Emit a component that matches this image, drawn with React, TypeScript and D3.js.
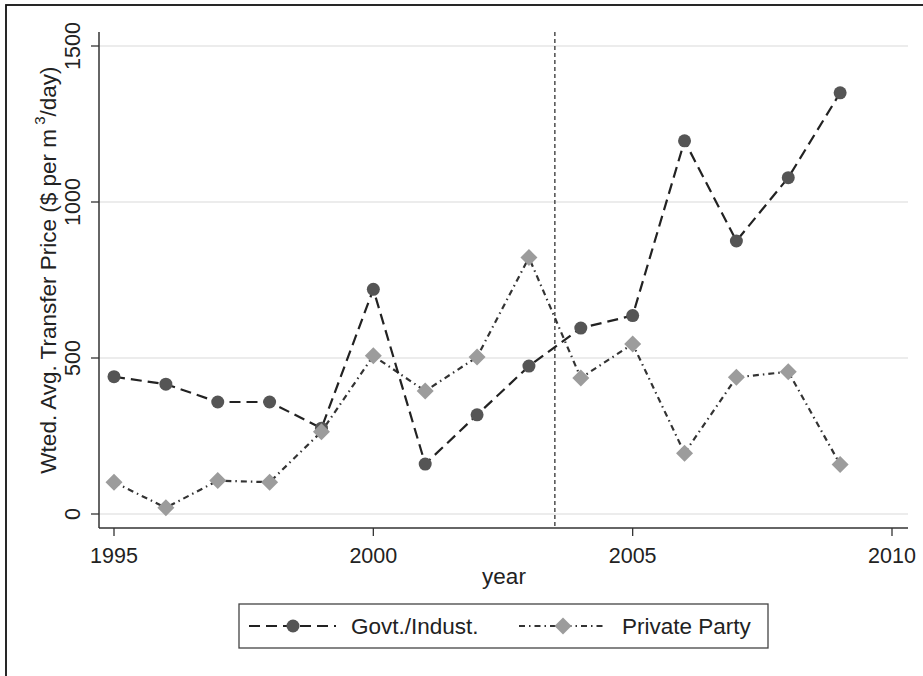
import React from "react";
import * as d3 from "d3";

// Weighted average transfer prices by year
const years = [1995, 1996, 1997, 1998, 1999, 2000, 2001, 2002, 2003, 2004, 2005, 2006, 2007, 2008, 2009];
const govtIndust = [440, 416, 359, 359, 275, 720, 160, 318, 474, 596, 636, 1196, 875, 1078, 1350];
const privateParty = [102, 20, 107, 102, 264, 507, 394, 503, 822, 436, 545, 195, 438, 456, 159];
const xTicks = [1995, 2000, 2005, 2010];
const yTicks = [0, 500, 1000, 1500];
const breakYear = 2003.5;

const W = 923;
const H = 676;
const FONT = "Liberation Sans, Arial, Helvetica, sans-serif";

export default function App() {
  const x = d3.scaleLinear().domain([1995, 2010]).range([114, 892]);
  const y = d3.scaleLinear().domain([0, 1500]).range([514, 46]);
  const axisX = 99;
  const axisY = 528;
  const plotTop = 32;
  const plotRight = 908;

  const lineGen = d3
    .line<number>()
    .x((_, i) => x(years[i]))
    .y((d) => y(d));

  const diamond = (cx: number, cy: number, r: number) =>
    `M${cx},${cy - r}L${cx + r},${cy}L${cx},${cy + r}L${cx - r},${cy}Z`;

  const govtStroke = "#222";
  const govtMarker = "#555";
  const privStroke = "#333";
  const privMarker = "#9c9c9c";
  const govtDash = "11,6";
  const privDash = "6,4,1.5,4";

  return (
    <svg
      width={W}
      height={H}
      style={{ position: "absolute", left: 0, top: 0, background: "#fff" }}
      fontFamily={FONT}
    >
      <rect x={0} y={0} width={W} height={H} fill="#fff" />
      {/* outer frame */}
      <rect x={6} y={5} width={W + 10} height={H + 10} fill="none" stroke="#111" strokeWidth={1.8} />

      {/* horizontal gridlines */}
      {yTicks.map((t) => (
        <line key={"g" + t} x1={axisX} x2={plotRight} y1={y(t)} y2={y(t)} stroke="#e6e6e6" strokeWidth={1.5} />
      ))}

      {/* axes */}
      <line x1={axisX} x2={axisX} y1={plotTop} y2={axisY} stroke="#333" strokeWidth={1.5} />
      <line x1={axisX} x2={plotRight} y1={axisY} y2={axisY} stroke="#333" strokeWidth={1.5} />

      {yTicks.map((t) => (
        <g key={"yt" + t}>
          <line x1={axisX - 8} x2={axisX} y1={y(t)} y2={y(t)} stroke="#333" strokeWidth={1.3} />
          <text
            transform={`translate(80,${y(t)}) rotate(-90)`}
            textAnchor="middle"
            fontSize={21.5}
            fill="#222"
          >
            {t}
          </text>
        </g>
      ))}

      {xTicks.map((t) => (
        <g key={"xt" + t}>
          <line x1={x(t)} x2={x(t)} y1={axisY} y2={axisY + 8} stroke="#333" strokeWidth={1.3} />
          <text x={x(t)} y={563} textAnchor="middle" fontSize={21.5} fill="#222">
            {t}
          </text>
        </g>
      ))}

      {/* axis titles */}
      <text x={504} y={584} textAnchor="middle" fontSize={22.5} fill="#222">
        year
      </text>
      <text transform={`translate(56,270) rotate(-90)`} textAnchor="middle" fontSize={22.5} fill="#222">
        Wted. Avg. Transfer Price ($ per m
        <tspan dy={-11} fontSize={15}>
          {" "}3
        </tspan>
        <tspan dy={11}>/day)</tspan>
      </text>

      {/* reference line */}
      <line
        x1={x(breakYear)}
        x2={x(breakYear)}
        y1={plotTop}
        y2={axisY}
        stroke="#333"
        strokeWidth={1.3}
        strokeDasharray="4,3"
      />

      {/* series lines */}
      <path d={lineGen(privateParty) || ""} fill="none" stroke={privStroke} strokeWidth={2.2} strokeDasharray={privDash} />
      <path d={lineGen(govtIndust) || ""} fill="none" stroke={govtStroke} strokeWidth={2.2} strokeDasharray={govtDash} />

      {/* markers */}
      {govtIndust.map((v, i) => (
        <circle key={"c" + i} cx={x(years[i])} cy={y(v)} r={6.5} fill={govtMarker} />
      ))}
      {privateParty.map((v, i) => (
        <path key={"d" + i} d={diamond(x(years[i]), y(v), 8.5)} fill={privMarker} />
      ))}

      {/* legend */}
      <rect x={239} y={604} width={529} height={44} fill="#fff" stroke="#444" strokeWidth={1.3} />
      <line x1={249} x2={336} y1={626} y2={626} stroke={govtStroke} strokeWidth={2.2} strokeDasharray={govtDash} />
      <circle cx={293} cy={626} r={6.5} fill={govtMarker} />
      <text x={351} y={634} fontSize={22.5} fill="#222">
        Govt./Indust.
      </text>
      <line x1={519} x2={606} y1={626} y2={626} stroke={privStroke} strokeWidth={2.2} strokeDasharray={privDash} />
      <path d={diamond(563, 626, 8.5)} fill={privMarker} />
      <text x={622} y={634} fontSize={22.5} fill="#222">
        Private Party
      </text>
    </svg>
  );
}
